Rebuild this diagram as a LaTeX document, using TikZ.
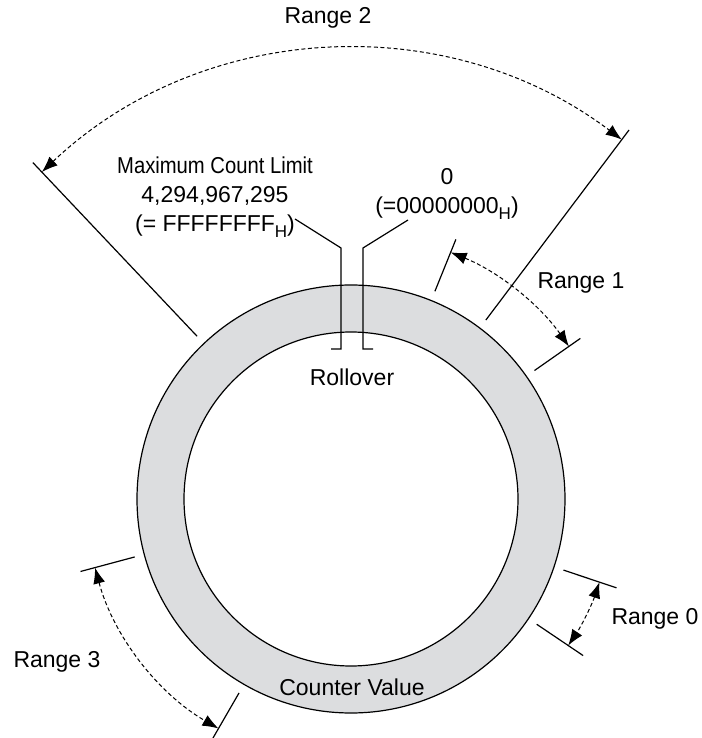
\documentclass[tikz,border=0pt]{standalone}
\usepackage{fontspec}
\usepackage{graphicx}
\setmainfont{Liberation Sans}
\usetikzlibrary{arrows.meta}
\definecolor{ringgray}{RGB}{220,221,223}
\newcommand{\hexsub}{\raisebox{-3pt}{\fontsize{8.5}{8.5}\selectfont H}}

\begin{document}
\begin{tikzpicture}[
  x=0.5pt, y=0.5pt,
  font=\fontsize{11.5}{14.5}\selectfont,
  ringline/.style={line width=0.6pt},
  tickline/.style={line width=0.6pt},
  rangearc/.style={dash pattern=on 2pt off 1.3pt, line width=0.5pt,
                   {Latex[length=8pt,width=6pt]}-{Latex[length=8pt,width=6pt]}},
  lbl/.style={inner sep=0pt, align=center}
]
\useasboundingbox (-351,-239) rectangle (350,499);
%--- Ring: counter value ---------------------------------------------------
\fill[ringgray, even odd rule] (0,0) circle[radius=214] (0,0) circle[radius=167];
\draw[ringline] (0,0) circle[radius=214];
\draw[ringline] (0,0) circle[radius=167];
%--- Range limits ----------------------------------------------------------
\draw[tickline] (133.4:224) -- (133.4:463);
\draw[tickline] (53:224) -- (53:462);
\foreach \a in {68,35,-18.5,-34,195,240}
  \draw[tickline] (\a:224) -- (\a:280);
%--- Range arrows ----------------------------------------------------------
\draw[rangearc] (133.4:450) arc[start angle=133.4, end angle=53, radius=450];
\draw[rangearc] (68:266) arc[start angle=68, end angle=35, radius=266];
\draw[rangearc] (-18.5:262) arc[start angle=-18.5, end angle=-34, radius=262];
\draw[rangearc] (195:265) arc[start angle=195, end angle=240, radius=265];
%--- Labels ----------------------------------------------------------------
\node[lbl] (range2) at (-23,481) {Range 2};
\node[lbl] (range1) at (230,216) {Range 1};
\node[lbl] (range0) at (304,-120) {Range 0};
\node[lbl] (range3) at (-294,-163) {Range 3};
\node[lbl] (maxlim) at (-136,302) {%
  \scalebox{0.88}[1]{Maximum Count Limit}\\4,294,967,295\\(= FFFFFFFF\hexsub)};
\node[lbl] (zero) at (96,305) {0\\(=00000000\hexsub)};
\node[lbl] (rollover) at (1,122) {Rollover};
\node[lbl] (counter) at (1,-188) {Counter Value};
%--- Rollover leaders ------------------------------------------------------
\coordinate (maxtip) at (-56,280);
\coordinate (zerotip) at (57,279);
\draw[tickline] (maxtip) -- (-10,251) -- (-10,150) -- (-20,150);
\draw[tickline] (zerotip) -- (12,251) -- (12,150) -- (22,150);
\end{tikzpicture}
\end{document}
